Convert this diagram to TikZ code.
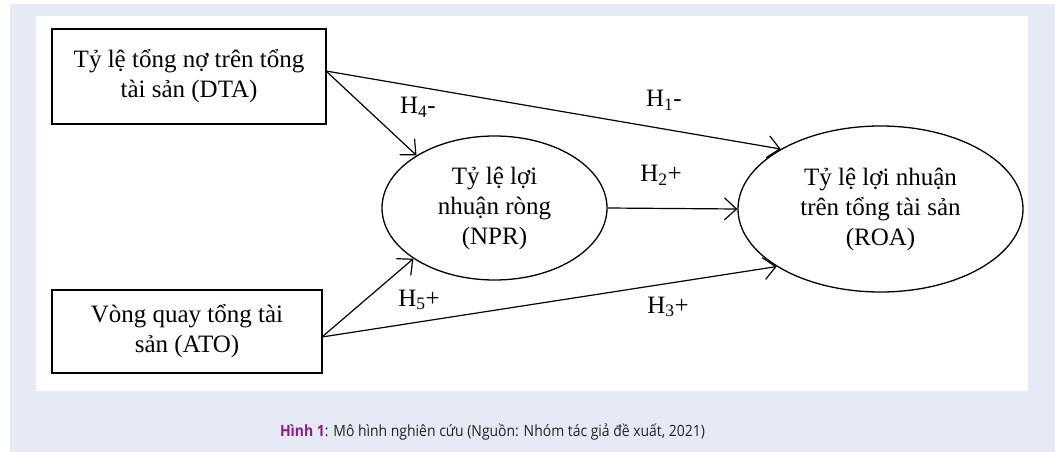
\documentclass[tikz,border=0pt]{standalone}
\usepackage{fontspec}
\setmainfont{Liberation Serif}
\newfontfamily\capfont[FakeStretch=0.9]{Open Sans}
\usetikzlibrary{arrows.meta,shapes.geometric}
\definecolor{bgblue}{RGB}{229,234,245}
\definecolor{hinh}{RGB}{139,26,139}
\definecolor{captxt}{RGB}{35,35,35}
\begin{document}
\begin{tikzpicture}[x=1pt,y=-1pt,
  box/.style={draw,line width=1.3pt,inner sep=0pt,font=\fontsize{25}{30}\selectfont,align=center},
  ell/.style={draw,ellipse,line width=1.3pt,inner sep=0pt,font=\fontsize{25}{30}\selectfont,align=center},
  conn/.style={line width=1.2pt,-{Straight Barb[length=12pt,width=22pt,line width=1.2pt]}},
  hlab/.style={font=\fontsize{25}{28}\selectfont,inner sep=0pt}]
\useasboundingbox (0,0) rectangle (1055,452);
\fill[white] (0,0) rectangle (1055,452);
\fill[bgblue] (10,4) rectangle (1055,452);
\fill[white] (36,16) rectangle (1028,391);
% nodes
\node[box,minimum width=274pt,minimum height=95pt] (dta) at (189,76.5) {Tỷ lệ tổng nợ trên tổng\\tài sản (DTA)};
\node[box,minimum width=270pt,minimum height=83pt] (ato) at (187,331.5) {Vòng quay tổng tài\\sản (ATO)};
\node[ell,minimum width=225pt,minimum height=144pt] (npr) at (494.5,208) {Tỷ lệ lợi\\nhuận ròng\\(NPR)};
\node[ell,minimum width=285pt,minimum height=166pt] (roa) at (880.5,209) {Tỷ lệ lợi nhuận\\trên tổng tài sản\\(ROA)};
\coordinate (dtaout) at (326,71);
\coordinate (atoout) at (322,337);
% connectors
\draw[conn] (dtaout) -- (roa.149.7);
\draw[conn] (dtaout) -- (npr.146.5);
\draw[conn] (npr.east) -- (roa.west);
\draw[conn] (atoout) -- (npr.212.5);
\draw[conn] (atoout) -- (roa.209.1);
% labels
\node[hlab] (h4) at (418,107) {H\textsubscript{4}-};
\node[hlab] (h1) at (664,100) {H\textsubscript{1}-};
\node[hlab] (h2) at (661,175) {H\textsubscript{2}+};
\node[hlab] (h5) at (419,300) {H\textsubscript{5}+};
\node[hlab] (h3) at (668,307) {H\textsubscript{3}+};
% caption
\node[font=\capfont\fontsize{15.5}{19}\selectfont,text=captxt,inner sep=0pt] (cap) at (492.5,432) {\textbf{\color{hinh}Hình 1}: Mô hình nghiên cứu (Nguồn: Nhóm tác giả đề xuất, 2021)};
\end{tikzpicture}
\end{document}
